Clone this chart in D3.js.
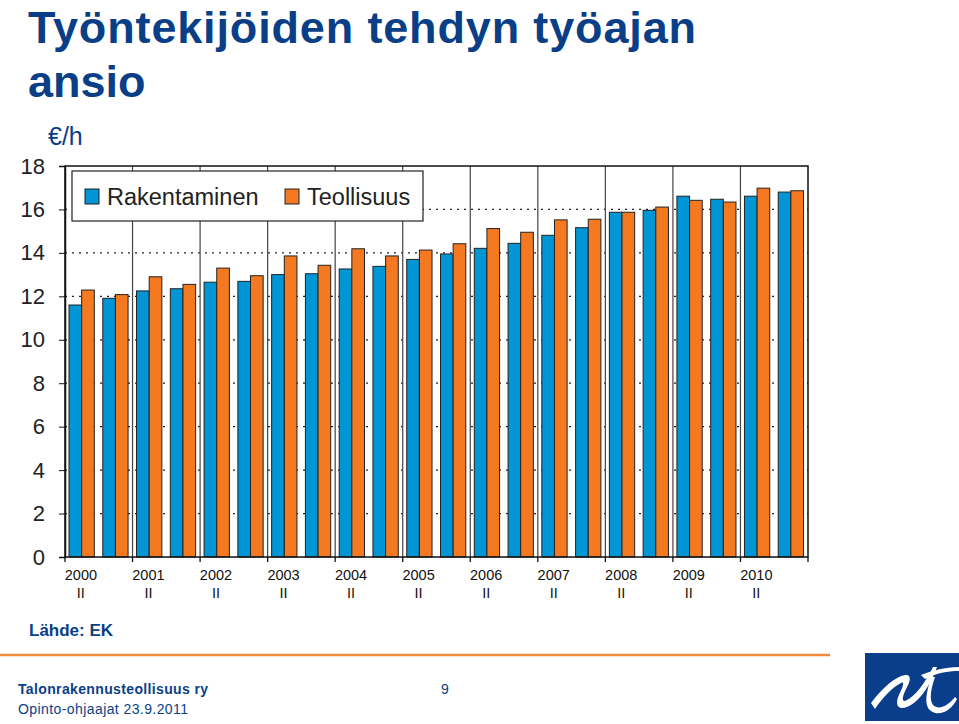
<!DOCTYPE html>
<html>
<head>
<meta charset="utf-8">
<script src="https://cdn.jsdelivr.net/npm/d3@7"></script>
<style>
body { margin:0; background:#fff; }
svg { display:block; font-family:"Liberation Sans", Arial, sans-serif; }
</style>
</head>
<body>
<svg id="svg" width="959" height="724"></svg>
<script>
var years = ["2000","2001","2002","2003","2004","2005","2006","2007","2008","2009","2010"];
var halves = ["I","II"];
var series = ["Rakentaminen","Teollisuus"];
// half-year values, 2000 I ... 2010 II
var rakentaminen = [11.6,11.91,12.25,12.35,12.65,12.69,13.0,13.04,13.26,13.38,13.7,13.95,
                    14.21,14.44,14.81,15.16,15.87,15.96,16.61,16.47,16.61,16.8];
var teollisuus   = [12.29,12.08,12.9,12.55,13.3,12.95,13.86,13.43,14.19,13.86,14.13,14.42,
                    15.12,14.95,15.52,15.55,15.87,16.11,16.42,16.34,16.98,16.86];
var yTicks = [0,2,4,6,8,10,12,14,16,18];

var svg = d3.select("#svg");

var blue = "#0096d6", orange = "#f47920", navy = "#0a3f87";
var L = 65, R = 808, T = 166, B = 557;

var periods = [];
years.forEach(y => halves.forEach(h => periods.push(y + " " + h)));

var x = d3.scaleBand().domain(periods).range([L, R]);
var xs = d3.scaleBand().domain(series).range([4, 29.3]);
var xy = d3.scaleBand().domain(years).range([L, R]);
var y = d3.scaleLinear().domain([0, 18]).range([B, T]);

// title
var tt = svg.append("g").attr("fill", navy).attr("font-weight", "bold").attr("font-size", 45)
  .selectAll("text").data(["Työntekijöiden tehdyn työajan", "ansio"]).enter()
  .append("text").attr("x", 28).attr("y", (d,i) => 43 + i*54).text(d => d);
tt.filter((d,i) => i === 0).attr("textLength", 668).attr("lengthAdjust", "spacing");

svg.append("text").attr("x", 48).attr("y", 145).attr("font-size", 25)
  .attr("fill", navy).text("€/h");

// grid
svg.append("g").selectAll("line").data(yTicks.filter(v => v > 0 && v < 18)).enter()
  .append("line")
  .attr("x1", L).attr("x2", R).attr("y1", d => y(d)).attr("y2", d => y(d))
  .attr("stroke", "#222").attr("stroke-width", 1.3).attr("stroke-dasharray", "2,5");

// year dividers
svg.append("g").selectAll("line").data(years.slice(1)).enter()
  .append("line")
  .attr("x1", d => xy(d)).attr("x2", d => xy(d)).attr("y1", T).attr("y2", B)
  .attr("stroke", "#444").attr("stroke-width", 1.2);

// bars
var rows = periods.map((p, i) => ({p: p, v: [rakentaminen[i], teollisuus[i]]}));
var grp = svg.append("g").selectAll("g").data(rows).enter()
  .append("g").attr("transform", d => "translate(" + x(d.p) + ",0)");
grp.selectAll("rect").data(d => d.v.map((v, j) => ({s: series[j], v: v}))).enter()
  .append("rect")
  .attr("x", d => xs(d.s)).attr("width", xs.bandwidth())
  .attr("y", d => y(d.v)).attr("height", d => B - y(d.v))
  .attr("fill", d => d.s === series[0] ? blue : orange)
  .attr("stroke", "#222").attr("stroke-width", 1);

// frame
svg.append("rect").attr("x", L).attr("y", T).attr("width", R - L).attr("height", B - T)
  .attr("fill", "none").attr("stroke", "#111").attr("stroke-width", 1.5);

// y axis
var ya = svg.append("g").attr("transform", "translate(" + L + ",0)")
  .call(d3.axisLeft(y).tickValues(yTicks).tickSize(6).tickPadding(14));
ya.select(".domain").attr("stroke", "#111").attr("stroke-width", 1.5);
ya.selectAll("text").attr("font-size", 22).attr("fill", "#222")
  .attr("font-family", "Liberation Sans, Arial, sans-serif");
ya.selectAll(".tick line").attr("stroke", "#111");

// x axis ticks at year boundaries
var xa = svg.append("g").attr("transform", "translate(0," + B + ")");
xa.selectAll("line").data(years.concat(["end"])).enter()
  .append("line")
  .attr("x1", (d,i) => i < years.length ? xy(d) : R).attr("x2", (d,i) => i < years.length ? xy(d) : R)
  .attr("y1", 0).attr("y2", 5).attr("stroke", "#111").attr("stroke-width", 1.3);
var lab = xa.selectAll("text.yl").data(years).enter()
  .append("text").attr("class", "yl")
  .attr("x", d => x(d + " I") + x.bandwidth()/2 - 1)
  .attr("text-anchor", "middle").attr("font-size", 14.5).attr("fill", "#111");
lab.append("tspan").attr("y", 23).text(d => d);
lab.append("tspan").attr("x", d => x(d + " I") + x.bandwidth()/2 - 1).attr("y", 41).text("II");

// legend
var lg = svg.append("g");
lg.append("rect").attr("x", 72).attr("y", 171).attr("width", 351).attr("height", 50)
  .attr("fill", "#fff").attr("stroke", "#222").attr("stroke-width", 1.2);
var li = lg.selectAll("g").data(series).enter().append("g")
  .attr("transform", (d,i) => "translate(" + [85, 285][i] + ",189)");
li.append("rect").attr("width", 14).attr("height", 15)
  .attr("fill", (d,i) => i ? orange : blue).attr("stroke", "#222");
li.append("text").attr("x", 22).attr("y", 16).attr("font-size", 23.5).attr("fill", "#222")
  .text(d => d);

// source
svg.append("text").attr("x", 29).attr("y", 636).attr("font-size", 17).attr("font-weight", "bold")
  .attr("fill", navy).text("Lähde: EK");

// footer
svg.append("line").attr("x1", 0).attr("x2", 830).attr("y1", 655).attr("y2", 655)
  .attr("stroke", "#f08a3c").attr("stroke-width", 2.5);
svg.append("text").attr("x", 18).attr("y", 694).attr("font-size", 14).attr("font-weight", "bold")
  .attr("fill", navy).attr("textLength", 190).text("Talonrakennusteollisuus ry");
svg.append("text").attr("x", 18).attr("y", 714).attr("font-size", 14)
  .attr("fill", navy).attr("textLength", 170).text("Opinto-ohjaajat 23.9.2011");
svg.append("text").attr("x", 441).attr("y", 694).attr("font-size", 14)
  .attr("fill", navy).text("9");

// logo
var lo = svg.append("g").attr("transform", "translate(865,653)");
lo.append("rect").attr("width", 94).attr("height", 68).attr("fill", "#0a3d8a");
lo.append("path").attr("fill", "#fff")
  .attr("d", "M6 50 C18 34 30 24 40 22 C46 21 46 27 42 34 C38 42 36 48 40 48 C50 44 60 30 68 14 L72 14 C66 30 56 48 42 54 C32 58 30 50 34 42 C38 34 40 28 36 30 C28 34 18 44 10 56 Z");
lo.append("path").attr("fill", "#fff")
  .attr("d", "M56 22 C66 18 80 14 94 14 L94 18 C82 18 72 20 60 26 Z");
lo.append("path").attr("fill", "#fff")
  .attr("d", "M70 24 C66 36 64 46 68 52 C74 58 84 52 90 44 L92 46 C86 58 74 64 66 58 C58 52 62 38 66 24 Z");
</script>
</body>
</html>
